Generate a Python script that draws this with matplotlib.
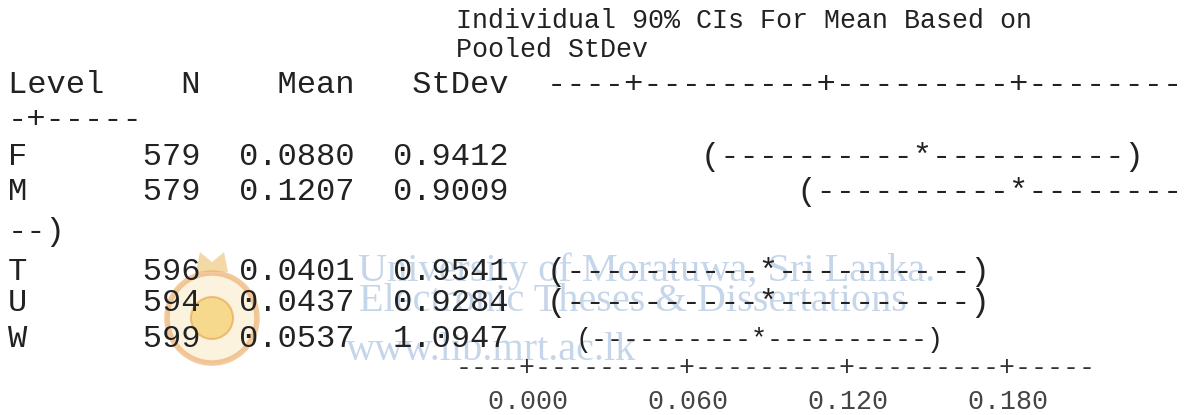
import numpy as np
import matplotlib
matplotlib.use("Agg")
import matplotlib.pyplot as plt
from matplotlib.patches import Circle, Polygon

# Minitab one-way ANOVA output, CI table
levels = ["F", "M", "T", "U", "W"]
counts = [579, 579, 596, 594, 599]
means = [0.0880, 0.1207, 0.0401, 0.0437, 0.0537]
stdevs = [0.9412, 0.9009, 0.9541, 0.9284, 1.0947]
axis_ticks = [0.000, 0.060, 0.120, 0.180]
conf_level = 90
t_crit = 1.6454          # t(0.95, df = 2942)
per_char = 0.006         # value of one character on the text scale

watermark = ["University of Moratuwa, Sri Lanka.",
             "Electronic Theses & Dissertations",
             "www.lib.mrt.ac.lk"]

# layout (pixels)
W_PX, H_PX = 1188, 415
X0 = 8
CW_BIG = 19.3
CW_SMALL = 16.0
FS_BIG = CW_BIG / 0.6 * 72 / 100
FS_SMALL = CW_SMALL / 0.6 * 72 / 100
WRAP = 61
ZERO_COL = 32
W_CI_ZERO = 607
MONO = "Liberation Mono"
INK = "#222222"
small_ci = [False, False, False, False, True]


def ci_text(mean, n, sp):
    half = t_crit * sp / np.sqrt(n)
    lo = int(round((mean - half) / per_char))
    mid = int(round(mean / per_char))
    hi = int(round((mean + half) / per_char))
    return lo, "(" + "-" * (mid - lo - 1) + "*" + "-" * (hi - mid - 1) + ")"


def axis_text():
    s = "----+"
    for _ in axis_ticks[1:]:
        s += "---------+"
    return s + "-----"


dfs = np.array(counts) - 1
sp = np.sqrt(np.sum(dfs * np.array(stdevs) ** 2) / dfs.sum())

fig = plt.figure(figsize=(W_PX / 100, H_PX / 100), dpi=100)
ax = fig.add_axes([0, 0, 1, 1])
ax.set_xlim(0, W_PX)
ax.set_ylim(H_PX, 0)
ax.axis("off")


def put(x, y, s, fs=FS_BIG, color=INK):
    ax.text(x, y, s, fontsize=fs, family=MONO, color=color,
            ha="left", va="baseline", zorder=3)


# watermark (drawn underneath)
wm_x = [935, 907, 636]
wm_y = [281, 311, 360]
for s, x, y in zip(watermark, wm_x, wm_y):
    ax.text(x, y, s, fontsize=29, family="Liberation Serif",
            color="#c6d6ea", ha="right", va="baseline", zorder=1)

# university crest, faint
ax.add_patch(Circle((212, 318), 45, facecolor="#fbeccb", edgecolor="#eaa55e",
                    lw=4, alpha=0.6, zorder=0))
ax.add_patch(Circle((212, 318), 21, facecolor="#f2c548", edgecolor="#e59a3c",
                    lw=1.5, alpha=0.55, zorder=0))
ax.add_patch(Polygon([[196, 272], [200, 252], [212, 262], [224, 252],
                      [228, 272]], closed=True, facecolor="#eab552",
                     edgecolor="none", alpha=0.5, zorder=0))

# header
put(456, 28, f"Individual {conf_level}% CIs For Mean Based on", FS_SMALL)
put(456, 57, "Pooled StDev", FS_SMALL)

head = f"{'Level':<5}{'N':>5}{'Mean':>8}{'StDev':>8}" + "  " + axis_text()
put(X0, 93, head[:WRAP])
put(X0, 128, head[WRAP:])

# rows
row_y = [165, 200, 280, 311, 347]
wrap_y = 240
for i, lev in enumerate(levels):
    row = f"{lev:<5}{counts[i]:>5}{means[i]:>8.4f}{stdevs[i]:>8.4f}"
    lo, ci = ci_text(means[i], counts[i], sp)
    if small_ci[i]:
        put(X0, row_y[i], row)
        put(W_CI_ZERO + lo * CW_SMALL, row_y[i], ci, FS_SMALL)
        continue
    line = row.ljust(ZERO_COL + lo) + ci
    put(X0, row_y[i], line[:WRAP])
    if len(line) > WRAP:
        put(X0, wrap_y, line[WRAP:])

# bottom scale
AX_X = 456
put(AX_X, 375, axis_text(), FS_SMALL, "#333333")
labels = "".join(f"{v:.3f}".ljust(10) for v in axis_ticks).rstrip()
put(AX_X + 2 * CW_SMALL, 409, labels, FS_SMALL, "#444444")

fig.savefig("out.png", dpi=100, facecolor="white")
